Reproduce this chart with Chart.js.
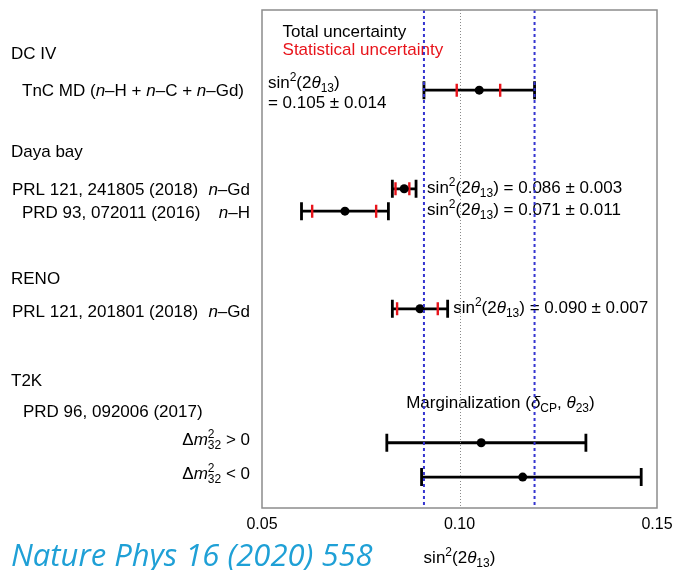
<!DOCTYPE html>
<html>
<head>
<meta charset="utf-8">
<script src="https://cdn.jsdelivr.net/npm/chart.js@4.4.0/dist/chart.umd.min.js"></script>
<style>
    html, body { margin: 0; padding: 0; background: #fff; }
</style>
</head>
<body>
<canvas id="theta13Chart" width="673" height="570"></canvas>
<script>
// sin^2(2 theta_13) measurements, one row per result (top to bottom)
const central   = [0.105, 0.086, 0.071, 0.090, 0.1055, 0.116];
const totalLow  = [0.091, 0.083, 0.060, 0.083, 0.0816, 0.0904];
const totalHigh = [0.119, 0.089, 0.082, 0.097, 0.132, 0.146];
const statLow   = [0.0993, 0.0838, 0.0627, 0.0842, null, null];
const statHigh  = [0.1103, 0.0873, 0.0789, 0.0945, null, null];
// vertical row position, 0 = top of frame, 100 = bottom
const rowPos    = [16.1, 35.9, 40.4, 60.0, 86.9, 93.8];

const xTicks = [0.05, 0.10, 0.15];
const dcBand = [0.091, 0.119];
const refLine = 0.10;

const FONT = '"Liberation Sans", Arial, Helvetica, sans-serif';
const SIN2 = [{ t: 'sin' }, { sup: '2' }, { t: '(2' }, { t: 'θ', it: true }, { sub: '13' }, { t: ')' }];

// left-hand labels: [text parts, x, rowPos, align]
const leftLabels = [
    [[{ t: 'DC IV' }], 11, 8.6, 'left'],
    [[{ t: 'TnC MD (' }, { t: 'n', it: true }, { t: '–H + ' }, { t: 'n', it: true }, { t: '–C + ' }, { t: 'n', it: true }, { t: '–Gd)' }], 22, 16.1, 'left'],
    [[{ t: 'Daya bay' }], 11, 28.3, 'left'],
    [[{ t: 'PRL 121, 241805 (2018)' }], 12, 35.9, 'left'],
    [[{ t: 'n', it: true }, { t: '–Gd' }], 250, 35.9, 'right'],
    [[{ t: 'PRD 93, 072011 (2016)' }], 22, 40.6, 'left'],
    [[{ t: 'n', it: true }, { t: '–H' }], 250, 40.6, 'right'],
    [[{ t: 'RENO' }], 11, 53.8, 'left'],
    [[{ t: 'PRL 121, 201801 (2018)' }], 12, 60.4, 'left'],
    [[{ t: 'n', it: true }, { t: '–Gd' }], 250, 60.4, 'right'],
    [[{ t: 'T2K' }], 11, 74.3, 'left'],
    [[{ t: 'PRD 96, 092006 (2017)' }], 23, 80.5, 'left'],
    [[{ t: 'Δ' }, { t: 'm', it: true }, { sup: '2', sub: '32' }, { t: ' > 0' }], 250, 86.1, 'right'],
    [[{ t: 'Δ' }, { t: 'm', it: true }, { sup: '2', sub: '32' }, { t: ' < 0' }], 250, 93.0, 'right']
];

// in-frame notes: [text parts, x value, rowPos, colour]
const notes = [
    [[{ t: 'Total uncertainty' }], 0.0552, 4.1, '#000'],
    [[{ t: 'Statistical uncertainty' }], 0.0552, 7.8, '#e8141b'],
    [SIN2, 0.0515, 14.5, '#000'],
    [[{ t: '= 0.105 ± 0.014' }], 0.0515, 18.5, '#000'],
    [SIN2.concat([{ t: ' = 0.086 ± 0.003' }]), 0.0918, 35.6, '#000'],
    [SIN2.concat([{ t: ' = 0.071 ± 0.011' }]), 0.0918, 40.0, '#000'],
    [SIN2.concat([{ t: ' = 0.090 ± 0.007' }]), 0.0984, 59.6, '#000'],
    [[{ t: 'Marginalization (' }, { t: 'δ', it: true }, { sub: 'CP' }, { t: ', ' }, { t: 'θ', it: true }, { sub: '23' }, { t: ')' }], 0.0865, 78.6, '#000']
];

function isSmall(p) { return p.sup !== undefined || p.sub !== undefined; }

function partFont(p, size) {
    return (p.it ? 'italic ' : '') + (isSmall(p) ? Math.round(size * 0.68) : size) + 'px ' + FONT;
}

function partWidth(ctx, p, size) {
    ctx.font = partFont(p, size);
    if (isSmall(p)) {
        return Math.max(p.sup ? ctx.measureText(p.sup).width : 0, p.sub ? ctx.measureText(p.sub).width : 0);
    }
    return ctx.measureText(p.t).width;
}

// draws text with italic pieces, superscripts and subscripts; y is the vertical middle
function drawRich(ctx, parts, x, y, size, align, color) {
    const total = parts.reduce((s, p) => s + partWidth(ctx, p, size), 0);
    let cx = align === 'right' ? x - total : align === 'center' ? x - total / 2 : x;
    const base = y + size * 0.36;
    ctx.fillStyle = color;
    ctx.textAlign = 'left';
    ctx.textBaseline = 'alphabetic';
    parts.forEach(p => {
        const w = partWidth(ctx, p, size);
        if (isSmall(p)) {
            if (p.sup) ctx.fillText(p.sup, cx, base - size * 0.42);
            if (p.sub) ctx.fillText(p.sub, cx, base + size * 0.24);
        } else {
            ctx.fillText(p.t, cx, base);
        }
        cx += w;
    });
}

const errorBars = {
    id: 'errorBars',
    beforeDatasetsDraw(chart) {
        const { ctx, scales: { x, y } } = chart;
        ctx.save();
        central.forEach((c, i) => {
            const py = y.getPixelForValue(rowPos[i]);
            const x0 = x.getPixelForValue(totalLow[i]);
            const x1 = x.getPixelForValue(totalHigh[i]);
            ctx.strokeStyle = '#000';
            ctx.lineWidth = 2.8;
            ctx.beginPath();
            ctx.moveTo(x0, py); ctx.lineTo(x1, py);
            ctx.moveTo(x0, py - 9); ctx.lineTo(x0, py + 9);
            ctx.moveTo(x1, py - 9); ctx.lineTo(x1, py + 9);
            ctx.stroke();
            if (statLow[i] !== null) {
                ctx.strokeStyle = '#e8141b';
                ctx.lineWidth = 2.4;
                ctx.beginPath();
                [statLow[i], statHigh[i]].forEach(v => {
                    const px = x.getPixelForValue(v);
                    ctx.moveTo(px, py - 6.5); ctx.lineTo(px, py + 6.5);
                });
                ctx.stroke();
            }
        });
        ctx.restore();
    },
    afterDatasetsDraw(chart) {
        const { ctx, chartArea: a, scales: { x, y } } = chart;
        ctx.save();

        notes.forEach(n => drawRich(ctx, n[0], x.getPixelForValue(n[1]), y.getPixelForValue(n[2]), 17, 'left', n[3]));
        leftLabels.forEach(l => drawRich(ctx, l[0], l[1], y.getPixelForValue(l[2]), 17, l[3], '#000'));

        // reference line at 0.10 and the DC IV total uncertainty band
        ctx.setLineDash([1, 2]);
        ctx.strokeStyle = '#8a8a8a';
        ctx.lineWidth = 1;
        const rx = Math.round(x.getPixelForValue(refLine)) + 0.5;
        ctx.beginPath(); ctx.moveTo(rx, a.top); ctx.lineTo(rx, a.bottom); ctx.stroke();

        ctx.setLineDash([3, 3]);
        ctx.strokeStyle = '#3535d0';
        ctx.lineWidth = 2;
        dcBand.forEach(v => {
            const bx = x.getPixelForValue(v);
            ctx.beginPath(); ctx.moveTo(bx, a.top); ctx.lineTo(bx, a.bottom); ctx.stroke();
        });
        ctx.setLineDash([]);

        // frame
        ctx.strokeStyle = '#8c8c8c';
        ctx.lineWidth = 1.5;
        ctx.strokeRect(a.left, a.top, a.right - a.left, a.bottom - a.top);

        // x tick labels and title
        ctx.fillStyle = '#000';
        ctx.font = '16px ' + FONT;
        ctx.textAlign = 'center';
        ctx.textBaseline = 'middle';
        xTicks.forEach(t => ctx.fillText(t.toFixed(2), x.getPixelForValue(t), a.bottom + 17));
        drawRich(ctx, SIN2, x.getPixelForValue(0.10), a.bottom + 49, 17, 'center', '#000');

        // reference
        ctx.font = 'italic 31px "Open Sans", "Noto Sans", sans-serif';
        ctx.fillStyle = '#1fa0d6';
        ctx.textAlign = 'left';
        ctx.textBaseline = 'alphabetic';
        ctx.fillText('Nature Phys 16 (2020) 558', 11, 566);

        ctx.restore();
    }
};

new Chart(document.getElementById('theta13Chart').getContext('2d'), {
    type: 'scatter',
    data: {
        datasets: [{
            label: 'sin²(2θ13)',
            data: central.map((c, i) => ({ x: c, y: rowPos[i] })),
            pointRadius: 4.5,
            pointHoverRadius: 4.5,
            pointBackgroundColor: '#000',
            pointBorderWidth: 0
        }]
    },
    options: {
        responsive: false,
        animation: false,
        devicePixelRatio: 1,
        layout: {
            padding: { left: 262, right: 16, top: 10, bottom: 62 }
        },
        plugins: {
            legend: { display: false },
            tooltip: { enabled: false }
        },
        scales: {
            x: { type: 'linear', min: 0.05, max: 0.15, display: false },
            y: { type: 'linear', min: 0, max: 100, reverse: true, display: false }
        }
    },
    plugins: [errorBars]
});
</script>
</body>
</html>
